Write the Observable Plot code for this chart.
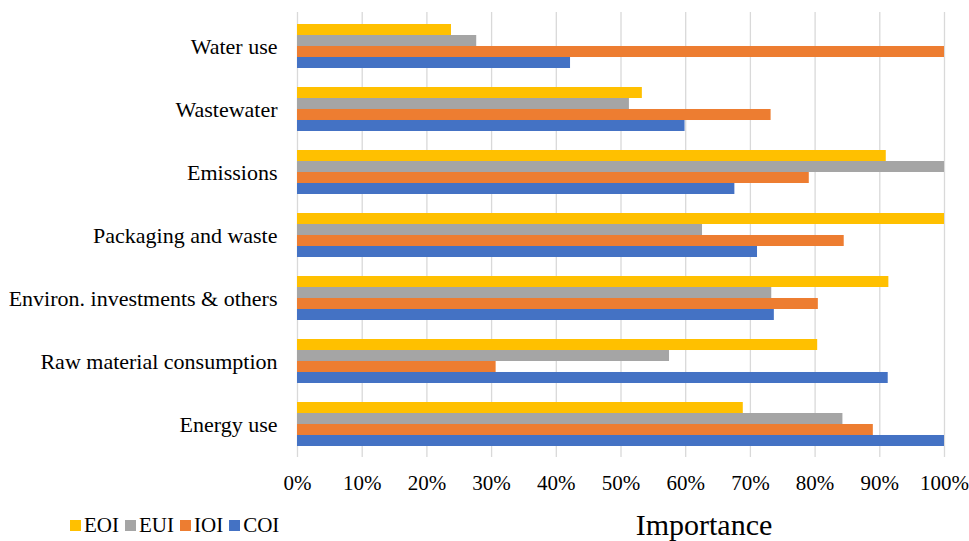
<!DOCTYPE html>
<html>
<head>
<meta charset="utf-8">
<script src="https://cdn.jsdelivr.net/npm/d3@7"></script>
<script src="https://cdn.jsdelivr.net/npm/@observablehq/plot@0.6"></script>
<style>
  body { margin: 0; background: #fff; }
  #wrap { position: relative; width: 969px; height: 541px; font-family: "Liberation Serif", serif; }
  #legend { position: absolute; left: 70px; top: 515px; display: flex; align-items: center; font-family: "Liberation Serif", serif; font-size: 21px; line-height: 21px; color: #000; }
  #legend .item { display: flex; align-items: center; margin-right: 6px; }
  #legend .sw { width: 11px; height: 11px; margin-right: 3px; }
</style>
</head>
<body>
<div id="wrap"></div>
<script>
const categories = ["Water use", "Wastewater", "Emissions", "Packaging and waste", "Environ. investments & others", "Raw material consumption", "Energy use"];
const series = ["EOI", "EUI", "IOI", "COI"];
const EOI = [23.8, 53.3, 91.0, 100, 91.4, 80.4, 68.9];
const EUI = [27.7, 51.3, 100, 62.6, 73.3, 57.5, 84.3];
const IOI = [100, 73.2, 79.1, 84.5, 80.5, 30.7, 89.0];
const COI = [42.2, 59.9, 67.6, 71.1, 73.7, 91.3, 100];
const colors = ["#FFC000", "#A5A5A5", "#ED7D31", "#4472C4"];
const xTicks = [0, 10, 20, 30, 40, 50, 60, 70, 80, 90, 100];
const xTitle = "Importance";

const seriesValues = [EOI, EUI, IOI, COI];
const rows = [];
series.forEach((s, i) => categories.forEach((c, j) => rows.push({series: s, category: c, value: seriesValues[i][j]})));

const W = 969, H = 541, mt = 12, mb = 84, ml = 297, mr = 25;
const padIn = 0.308, padOut = 0.154;
const step = (H - mt - mb) / categories.length;
const bw = step * (1 - padIn);
const q = bw / series.length;
const serif = "'Liberation Serif', serif";

const barMarks = series.map((s, i) =>
  Plot.barX(rows.filter(d => d.series === s), {
    x: "value", y: "category", fill: "series",
    insetTop: i * q, insetBottom: (series.length - 1 - i) * q
  })
);

const plot = Plot.plot({
  width: W, height: H,
  marginTop: mt, marginBottom: mb, marginLeft: ml, marginRight: mr,
  style: {fontFamily: serif, color: "#000", background: "#fff"},
  x: {domain: [0, 100]},
  y: {domain: categories, paddingInner: padIn, paddingOuter: padOut},
  color: {domain: series, range: colors},
  marks: [
    Plot.ruleX(xTicks, {stroke: "#D9D9D9", strokeWidth: 1.3}),
    ...barMarks,
    Plot.axisX({ticks: xTicks, tickFormat: d => d + "%", tickSize: 0, tickPadding: 18, fontSize: 21, fontFamily: serif, label: null}),
    Plot.axisY({tickSize: 0, tickPadding: 20, fontSize: 22, fontFamily: serif, label: null}),
    Plot.text([xTitle], {text: d => d, frameAnchor: "bottom", dy: 68, dx: 83, fontSize: 30, fontFamily: serif, lineAnchor: "middle", fill: "#000"})
  ]
});

const wrap = document.getElementById("wrap");
wrap.appendChild(plot);

const legend = document.createElement("div");
legend.id = "legend";
series.forEach((s, i) => {
  const item = document.createElement("div");
  item.className = "item";
  const sw = document.createElement("span");
  sw.className = "sw";
  sw.style.background = colors[i];
  const t = document.createElement("span");
  t.textContent = s;
  item.appendChild(sw);
  item.appendChild(t);
  legend.appendChild(item);
});
wrap.appendChild(legend);
</script>
</body>
</html>
